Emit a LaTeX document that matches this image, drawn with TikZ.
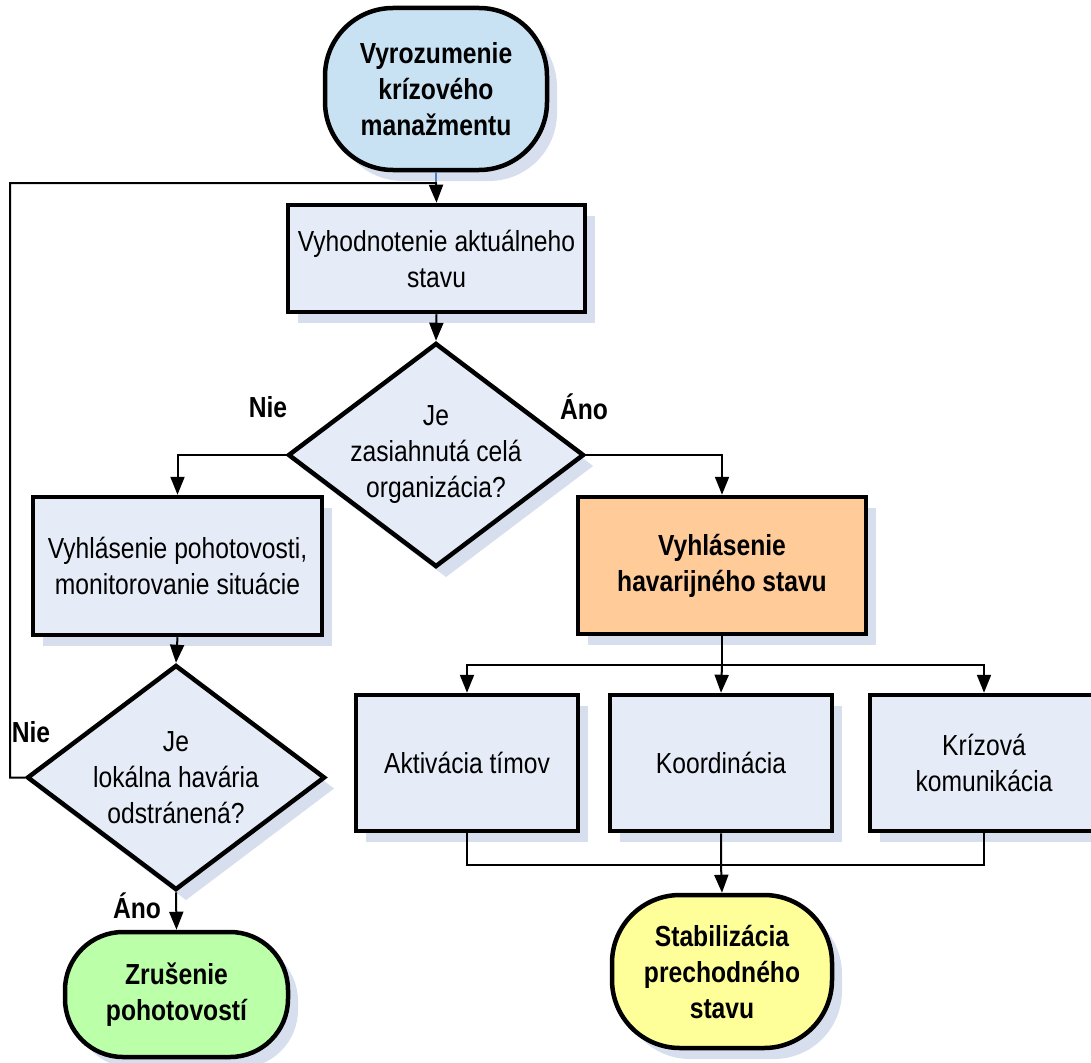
\documentclass[tikz,border=0pt]{standalone}
\usepackage{fontspec}
\setmainfont{Liberation Sans}[FakeStretch=0.85]
\usetikzlibrary{arrows.meta,shapes.geometric,shadows,calc}
\definecolor{boxfill}{HTML}{E6ECF7}
\definecolor{shadc}{HTML}{D7DFEF}
\definecolor{startfill}{HTML}{C8E2F4}
\definecolor{orangefill}{HTML}{FFCC99}
\definecolor{greenfill}{HTML}{BBFFA8}
\definecolor{yellowfill}{HTML}{FFFF9A}
\definecolor{bluelink}{HTML}{4F81BD}
\begin{document}
\begin{tikzpicture}[x=1pt,y=-1pt,
  base/.style={draw=black,line width=4.5pt,align=center,inner sep=2pt,
    font=\fontsize{29}{36}\selectfont,
    drop shadow={fill=shadc,opacity=1,shadow xshift=10pt,shadow yshift=-11pt}},
  procbox/.style={base,rectangle,fill=boxfill},
  termbox/.style={base,rectangle,rounded corners=68pt,font=\fontsize{29}{36}\selectfont\bfseries},
  decbox/.style={base,diamond,fill=boxfill,inner sep=0pt},
  lbl/.style={font=\fontsize{29}{36}\selectfont\bfseries,inner sep=0pt},
  arr/.style={draw=black,line width=2pt,-{Triangle[width=14pt,length=18pt]}},
  ln/.style={draw=black,line width=2pt}]
\useasboundingbox (0,0) rectangle (1091,1062);

\node[termbox,fill=startfill,minimum width=222pt,minimum height=162pt] (t1) at (436,89) {Vyrozumenie\\krízového\\manažmentu};
\node[procbox,minimum width=297pt,minimum height=107pt] (b1) at (436.5,258.5) {Vyhodnotenie aktuálneho\\stavu};
\node[decbox,minimum width=296pt,minimum height=224pt,
  label={[align=center,font=\fontsize{29}{36}\selectfont]center:Je\\zasiahnutá celá\\organizácia?}] (d1) at (436,455) {};
\node[procbox,minimum width=289pt,minimum height=138pt] (b2) at (177.5,566) {Vyhlásenie pohotovosti,\\monitorovanie situácie};
\node[procbox,fill=orangefill,minimum width=288pt,minimum height=137pt,font=\fontsize{29}{36}\selectfont\bfseries] (b3) at (722,565.5) {Vyhlásenie\\havarijného stavu};
\node[procbox,minimum width=222pt,minimum height=136pt] (c1) at (467,763) {Aktivácia tímov};
\node[procbox,minimum width=222pt,minimum height=136pt] (c2) at (721,763) {Koordinácia};
\node[procbox,minimum width=228pt,minimum height=136pt] (c3) at (984,763) {Krízová\\komunikácia};
\node[decbox,minimum width=298pt,minimum height=225pt,
  label={[align=center,font=\fontsize{29}{36}\selectfont]center:Je\\lokálna havária\\odstránená?}] (d2) at (176,777.5) {};
\node[termbox,fill=greenfill,minimum width=223pt,minimum height=125pt,rounded corners=58pt] (t2) at (176.5,994.5) {Zrušenie\\pohotovostí};
\node[termbox,fill=yellowfill,minimum width=220pt,minimum height=153pt] (t3) at (722,971.5) {Stabilizácia\\prechodného\\stavu};

% labels
\node[lbl] (nie1) at (268,407) {Nie};
\node[lbl] (ano1) at (584,407) {Áno};
\node[lbl] (nie2) at (31,732) {Nie};
\node[lbl] (ano2) at (137,906) {Áno};

% coordinates
\coordinate (j) at (436,183);
\coordinate (loop) at (10,183);
\coordinate (busA) at (722,665);
\coordinate (busB) at (721,865);

% connectors
\draw[line width=2pt,draw=bluelink] (t1.south) -- (j);
\draw[arr] (d2.west) -| (loop) -- (j) -- (b1.north);
\draw[arr] (b1.south) -- (d1.north);
\draw[arr] (d1.west) -| (b2.north);
\draw[arr] (d1.east) -| (b3.north);
\draw[arr] (b2.south) -- (d2.north);
\draw[arr] (d2.south) -- (t2.north);
\draw[ln] (b3.south) -- (busA);
\draw[arr] (busA) -| (c1.north);
\draw[arr] (busA) -- (c2.north);
\draw[arr] (busA) -| (c3.north);
\draw[ln] (c1.south) |- (busB);
\draw[ln] (c3.south) |- (busB);
\draw[arr] (c2.south) -- (busB) -- (t3.north);
\end{tikzpicture}
\end{document}
